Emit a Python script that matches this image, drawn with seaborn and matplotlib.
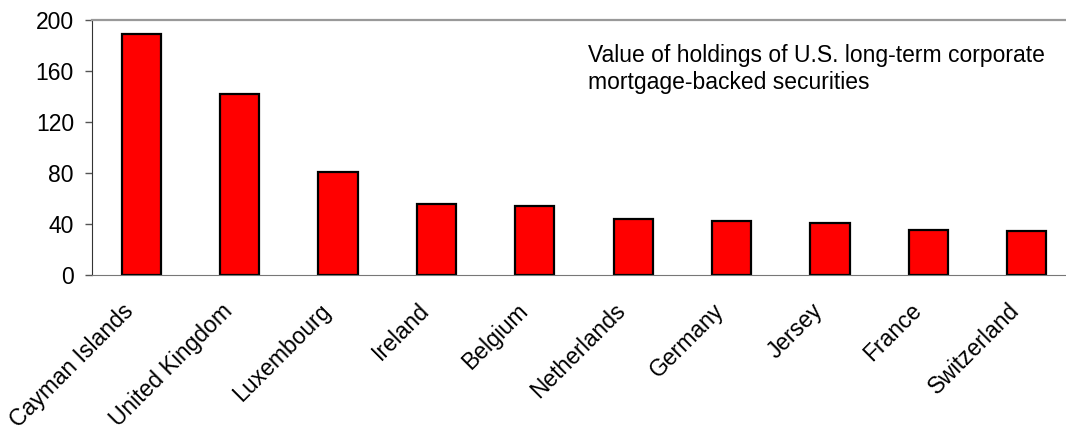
import numpy as np
import pandas as pd
import seaborn as sns
import matplotlib
matplotlib.use("Agg")
import matplotlib.pyplot as plt
import matplotlib.transforms as mtransforms

# data
countries = ["Cayman Islands", "United Kingdom", "Luxembourg", "Ireland", "Belgium",
             "Netherlands", "Germany", "Jersey", "France", "Switzerland"]
holdings = [189, 142, 81, 55.5, 54, 44, 42, 40.7, 35.2, 34.1]
yticks = [0, 40, 80, 120, 160, 200]
note = "Value of holdings of U.S. long-term corporate\nmortgage-backed securities"

sns.set_style("white")
plt.rcParams["font.family"] = ["Liberation Sans", "DejaVu Sans"]
plt.rcParams["text.color"] = "black"

df = pd.DataFrame({"country": countries, "value": holdings})

fig = plt.figure(figsize=(10.66, 4.33), dpi=100)
ax = fig.add_axes([92 / 1066, 158 / 433, 984 / 1066, 255.5 / 433])

sns.barplot(data=df, x="country", y="value", color="#ff0000", saturation=1,
            width=0.4, edgecolor="black", linewidth=1.6, ax=ax)

ax.set_xlim(-0.5, 9.5)
ax.set_ylim(0, 200)
ax.set_yticks(yticks)
ax.set_xlabel("")
ax.set_ylabel("")

# category boundaries as tick marks, labels at the centres
ax.set_xticks(np.arange(-0.5, 10, 1), minor=True)
ax.tick_params(axis="x", which="major", length=0, pad=16)
ax.tick_params(axis="x", which="minor", length=5, width=1, color="#555555", direction="out")
ax.tick_params(axis="y", length=5, width=1, color="#555555", labelcolor="black",
               direction="out", pad=8, labelsize=16.5, left=True)
shift = mtransforms.ScaledTranslation(-19 / 100, -2 / 100, fig.dpi_scale_trans)
for lab in ax.get_xticklabels():
    lab.set_rotation(45)
    lab.set_ha("right")
    lab.set_rotation_mode("anchor")
    lab.set_fontsize(16.5)
    lab.set_color("black")
    lab.set_transform(lab.get_transform() + shift)

ax.spines["left"].set_color("#333333")
ax.spines["bottom"].set_color("#777777")
ax.spines["top"].set_color("#999999")
ax.spines["top"].set_linewidth(1.6)
ax.spines["right"].set_visible(False)

ax.text(588 / 1066, 1 - 44 / 433, note, transform=fig.transFigure, fontsize=16.5,
        va="top", ha="left", linespacing=1.25, color="black")

plt.savefig("out.png", dpi=100)
